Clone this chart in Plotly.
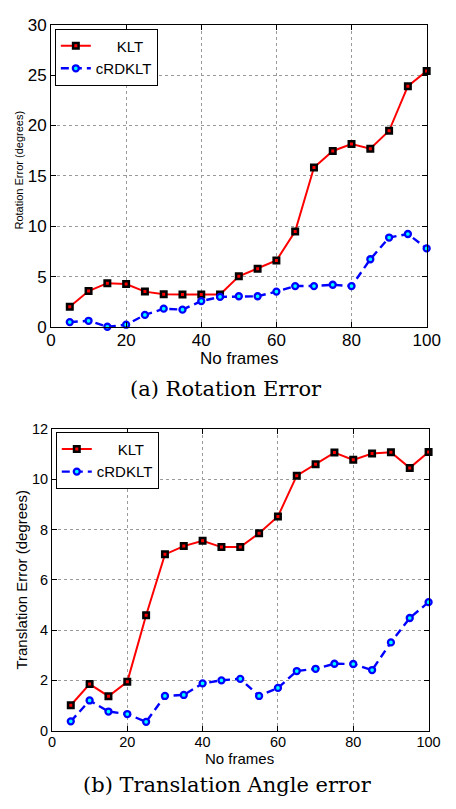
import plotly.graph_objects as go

# ---------------- data ----------------
frames = [5, 10, 15, 20, 25, 30, 35, 40, 45, 50, 55, 60, 65, 70, 75, 80, 85, 90, 95, 100]

rot_klt = [2.05, 3.6, 4.38, 4.29, 3.54, 3.28, 3.25, 3.25, 3.25, 5.06, 5.81, 6.62, 9.51,
           15.84, 17.48, 18.16, 17.71, 19.48, 23.9, 25.4]
rot_crd = [0.52, 0.65, 0.06, 0.26, 1.23, 1.85, 1.75, 2.6, 3.02, 3.08, 3.08, 3.54, 4.09,
           4.09, 4.22, 4.09, 6.75, 8.9, 9.25, 7.82]

trans_klt = [1.01, 1.85, 1.37, 1.94, 4.59, 7.01, 7.34, 7.55, 7.30, 7.30, 7.85, 8.52, 10.14,
             10.59, 11.06, 10.77, 11.02, 11.07, 10.45, 11.08]
trans_crd = [0.37, 1.2, 0.76, 0.66, 0.35, 1.38, 1.42, 1.88, 2.0, 2.06, 1.38, 1.70, 2.37,
             2.46, 2.66, 2.65, 2.41, 3.51, 4.48, 5.11]

series_names = ["KLT", "cRDKLT"]
x_ticks = [0, 20, 40, 60, 80, 100]
rot_ticks = [0, 5, 10, 15, 20, 25, 30]
trans_ticks = [0, 2, 4, 6, 8, 10, 12]

# ---------------- layout helpers ----------------
W, H = 456, 809


def fx(p):
    return p / W


def fy(p):
    return 1 - p / H


SANS = "Liberation Sans, Arial, Helvetica, sans-serif"
SERIF = "DejaVu Serif, serif"

klt_style = dict(
    mode="lines+markers",
    line=dict(color="#ff0000", width=2),
    marker=dict(symbol="square", size=5.5, color="#ff0000",
                line=dict(color="#000000", width=2.5)),
    cliponaxis=False,
)
crd_style = dict(
    mode="lines+markers",
    line=dict(color="#0000ff", width=2.4, dash="8px,5px"),
    marker=dict(symbol="circle", size=6, color="#00ffff",
                line=dict(color="#0000ff", width=2.3)),
    cliponaxis=False,
)

fig = go.Figure()
fig.add_trace(go.Scatter(x=frames, y=rot_klt, name="\u00a0" * 5 + series_names[0],
                         xaxis="x", yaxis="y", legend="legend", **klt_style))
fig.add_trace(go.Scatter(x=frames, y=rot_crd, name=series_names[1],
                         xaxis="x", yaxis="y", legend="legend", **crd_style))
fig.add_trace(go.Scatter(x=frames, y=trans_klt, name="\u00a0" * 5 + series_names[0],
                         xaxis="x2", yaxis="y2", legend="legend2", **klt_style))
fig.add_trace(go.Scatter(x=frames, y=trans_crd, name=series_names[1],
                         xaxis="x2", yaxis="y2", legend="legend2", **crd_style))


def axis(tickvals, rng, domain, anchor, fsize, standoff=0):
    return dict(
        domain=domain, anchor=anchor, range=rng,
        tickmode="array", tickvals=tickvals, ticktext=[str(v) for v in tickvals],
        showline=True, linecolor="#000000", linewidth=1, mirror="ticks",
        ticks="inside", ticklen=5, tickcolor="#000000", tickwidth=1,
        showgrid=True, gridcolor="#9a9a9a", griddash="dot", gridwidth=1,
        zeroline=False, fixedrange=True, ticklabelstandoff=standoff,
        tickfont=dict(family=SANS, size=fsize, color="#000000"),
    )


top_x = [fx(48), fx(440)]
top_y = [fy(326), fy(16)]
bot_x = [fx(49), fx(442)]
bot_y = [fy(739), fy(430)]

legend_common = dict(
    bgcolor="#ffffff", bordercolor="#000000", borderwidth=1,
    xanchor="left", yanchor="top", itemwidth=30, tracegroupgap=0,
    font=dict(family=SANS, size=15, color="#000000"),
)

fig.update_layout(
    width=W, height=H,
    margin=dict(l=0, r=0, t=0, b=0),
    paper_bgcolor="#ffffff", plot_bgcolor="#ffffff",
    showlegend=True,
    xaxis=axis(x_ticks, [0, 100], top_x, "y", 17, -3),
    yaxis=axis(rot_ticks, [0, 30], top_y, "x", 17),
    xaxis2=axis(x_ticks, [0, 100], bot_x, "y2", 14.5, -2),
    yaxis2=axis(trans_ticks, [0, 12], bot_y, "x2", 14.5),
    legend=dict(x=fx(52), y=fy(20), **legend_common),
    legend2=dict(x=fx(53), y=fy(433), **legend_common),
)

annotations = [
    dict(text="No frames", x=fx(244), y=fy(357.5), font=dict(family=SANS, size=17)),
    dict(text="(a) Rotation Error", x=fx(231), y=fy(389), font=dict(family=SERIF, size=21)),
    dict(text="Rotation Error (degrees)", x=fx(15), y=fy(165), textangle=-90,
         font=dict(family=SANS, size=11)),
    dict(text="No frames", x=fx(245), y=fy(768), font=dict(family=SANS, size=15)),
    dict(text="(b) Translation Angle error", x=fx(232), y=fy(795), font=dict(family=SERIF, size=21)),
    dict(text="Translation Error (degrees)", x=fx(17), y=fy(584), textangle=-90,
         font=dict(family=SANS, size=15)),
]
for a in annotations:
    a.update(xref="paper", yref="paper", showarrow=False, xanchor="center", yanchor="middle")
    a["font"]["color"] = "#000000"
fig.update_layout(annotations=annotations)

fig.write_html(
    "out.html",
    config={"displayModeBar": False},
    post_script="document.body.style.margin='0';document.body.style.overflow='hidden';",
)
